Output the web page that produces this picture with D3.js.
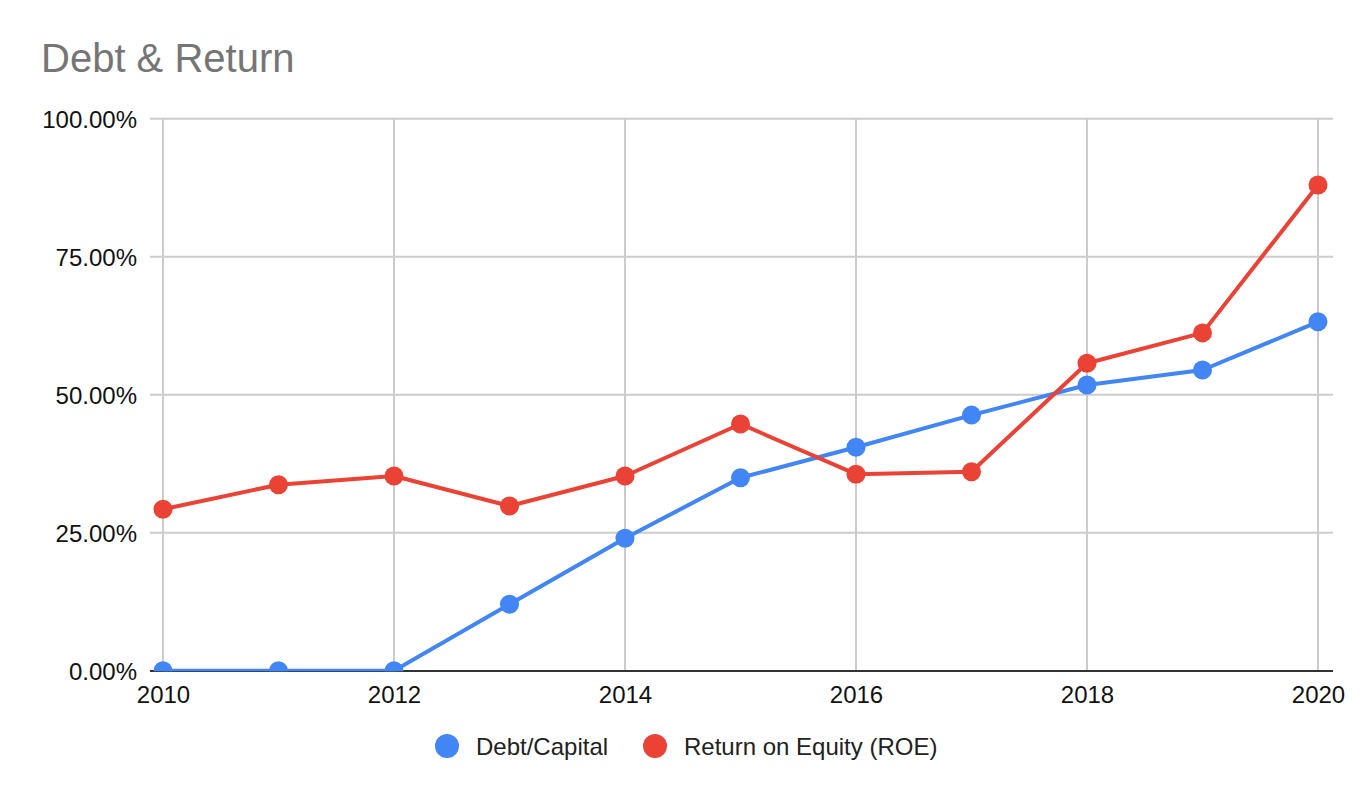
<!DOCTYPE html>
<html>
<head>
<meta charset="utf-8">
<script src="https://cdn.jsdelivr.net/npm/d3@7/dist/d3.min.js"></script>
<style>
  html, body { margin: 0; padding: 0; background: #fff; }
  svg { display: block; font-family: "Liberation Sans", Arial, sans-serif; }
</style>
</head>
<body>
<svg id="chart" width="1372" height="798"></svg>
<script>
const years = [2010, 2011, 2012, 2013, 2014, 2015, 2016, 2017, 2018, 2019, 2020];
const debtCapital = [0, 0, 0, 0.1203, 0.2399, 0.3496, 0.4047, 0.4630, 0.5175, 0.5447, 0.6320];
const roe = [0.2924, 0.3370, 0.3527, 0.2984, 0.3527, 0.4470, 0.3560, 0.3605, 0.5570, 0.6120, 0.8800];
const yTicks = [0, 0.25, 0.5, 0.75, 1];
const xTicks = [2010, 2012, 2014, 2016, 2018, 2020];
const seriesNames = ["Debt/Capital", "Return on Equity (ROE)"];
const seriesColors = ["#4285F4", "#EA4335"];
const title = "Debt & Return";

const svg = d3.select("#chart");
const x = d3.scaleLinear().domain([2010, 2020]).range([163, 1318]);
const y = d3.scaleLinear().domain([0, 1]).range([670.7, 118.7]);
const gridLeft = 150, gridRight = 1333;

// title
svg.append("text").attr("x", 41).attr("y", 72)
  .attr("font-size", 40).attr("fill", "#757575").text(title);

// horizontal gridlines
svg.append("g").selectAll("line").data(yTicks.filter(d => d > 0)).join("line")
  .attr("x1", gridLeft).attr("x2", gridRight)
  .attr("y1", d => y(d)).attr("y2", d => y(d))
  .attr("stroke", "#cccccc").attr("stroke-width", 2);

// vertical gridlines
svg.append("g").selectAll("line").data(xTicks).join("line")
  .attr("x1", d => x(d)).attr("x2", d => x(d))
  .attr("y1", y(1)).attr("y2", y(0))
  .attr("stroke", "#cccccc").attr("stroke-width", 2);

// baseline
svg.append("line").attr("x1", gridLeft).attr("x2", gridRight)
  .attr("y1", y(0) + 0.3).attr("y2", y(0) + 0.3)
  .attr("stroke", "#333333").attr("stroke-width", 2);

// y axis labels
const yAxis = d3.axisLeft(y).tickValues(yTicks).tickSize(0).tickPadding(0)
  .tickFormat(d => (d * 100).toFixed(2) + "%");
const gy = svg.append("g").attr("transform", "translate(137,0)").call(yAxis);
gy.select(".domain").remove();
gy.selectAll("text").attr("font-size", 24).attr("fill", "#111")
  .attr("font-family", "Liberation Sans, Arial, sans-serif").attr("dy", "0.35em");

// x axis labels
const xAxis = d3.axisBottom(x).tickValues(xTicks).tickSize(0).tickPadding(0)
  .tickFormat(d3.format("d"));
const gx = svg.append("g").attr("transform", "translate(0,682)").call(xAxis);
gx.select(".domain").remove();
gx.selectAll("text").attr("font-size", 24).attr("fill", "#111")
  .attr("font-family", "Liberation Sans, Arial, sans-serif").attr("dy", "0.88em");

// clip
svg.append("defs").append("clipPath").attr("id", "plotclip")
  .append("rect").attr("x", 0).attr("y", 0).attr("width", 1372).attr("height", y(0) + 0.5);

const series = [debtCapital, roe];
const line = d3.line().x((d, i) => x(years[i])).y(d => y(d));
const plot = svg.append("g").attr("clip-path", "url(#plotclip)");
series.forEach((vals, si) => {
  plot.append("path").datum(vals).attr("d", line)
    .attr("fill", "none").attr("stroke", seriesColors[si])
    .attr("stroke-width", 4).attr("stroke-linejoin", "round");
  plot.append("g").selectAll("circle").data(vals).join("circle")
    .attr("cx", (d, i) => x(years[i])).attr("cy", d => y(d)).attr("r", 9.5)
    .attr("fill", seriesColors[si]);
});

// legend
const legendX = [447, 655];
const lg = svg.append("g");
seriesNames.forEach((name, i) => {
  lg.append("circle").attr("cx", legendX[i]).attr("cy", 746).attr("r", 12)
    .attr("fill", seriesColors[i]);
  lg.append("text").attr("x", legendX[i] + 29).attr("y", 754.5)
    .attr("font-size", 24).attr("fill", "#222").text(name);
});
</script>
</body>
</html>
